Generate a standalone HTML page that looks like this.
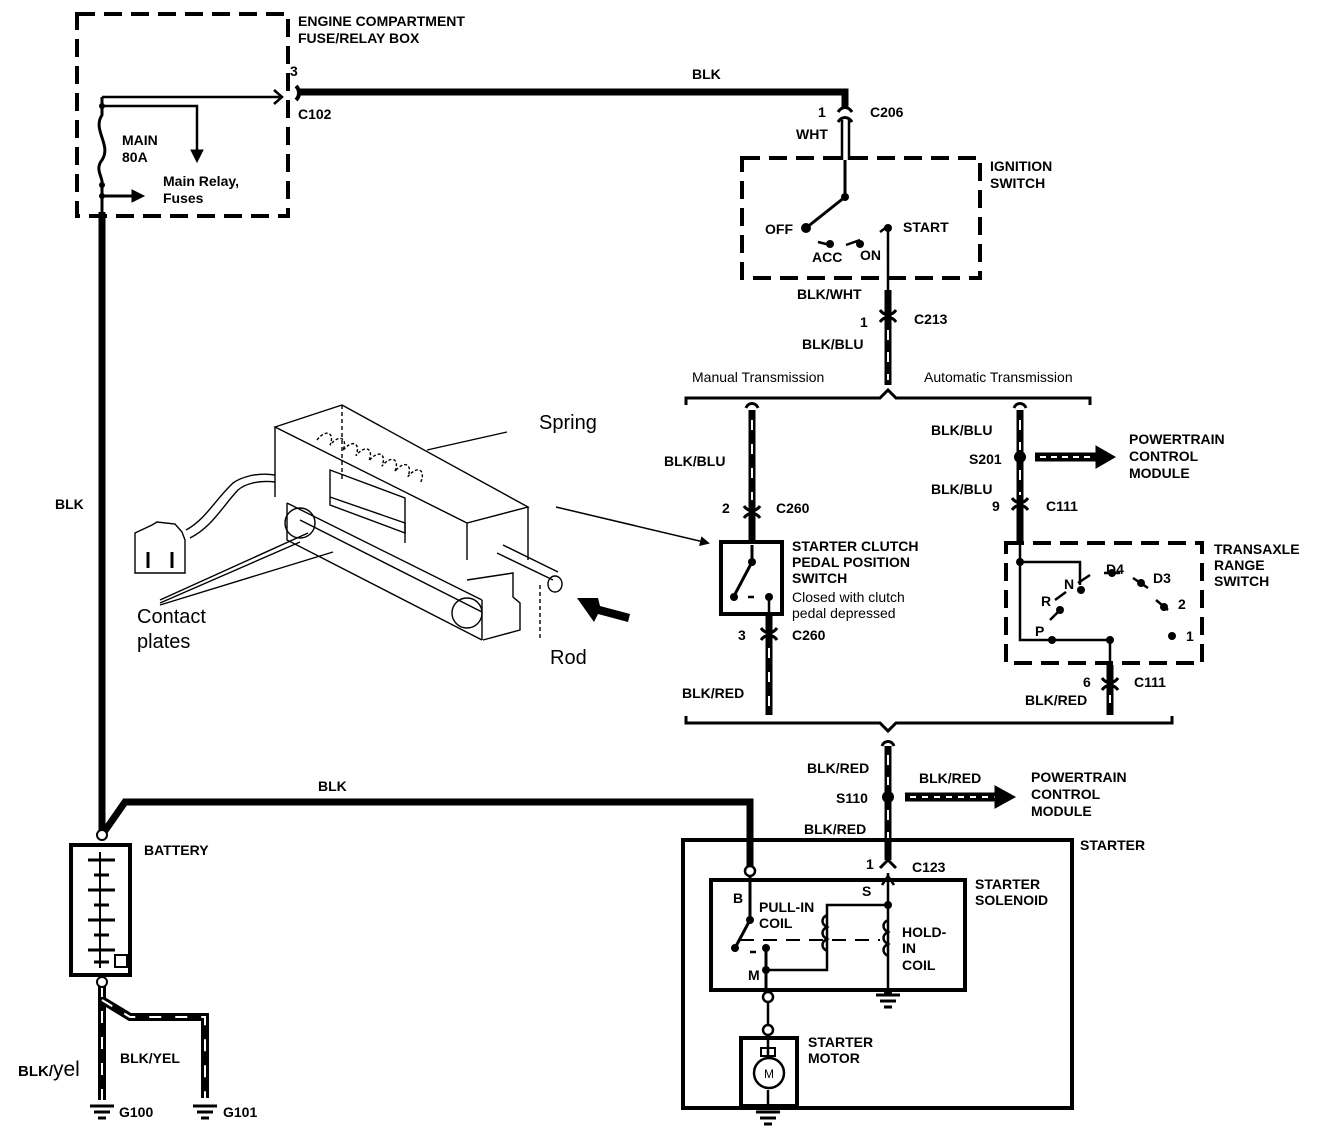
<!DOCTYPE html>
<html><head><meta charset="utf-8"><style>
html,body{margin:0;padding:0;background:#fff;}
svg{display:block;}
text{font-family:"Liberation Sans",Arial,sans-serif;fill:#000;}
.b{font-weight:bold;font-size:14px;}
.r{font-size:14px;}
.big{font-size:20px;}
</style></head><body>
<svg width="1344" height="1136" viewBox="0 0 1344 1136" xmlns="http://www.w3.org/2000/svg">
<defs>
<marker id="ah" markerWidth="10" markerHeight="10" refX="8" refY="5" orient="auto" markerUnits="userSpaceOnUse"><path d="M0,0 L10,5 L0,10 z" fill="#000"/></marker>
</defs>
<g fill="none" stroke="#000">
<!-- fuse box -->
<rect x="77" y="14" width="211" height="202" stroke-width="4" stroke-dasharray="18,9"/>
<path d="M102,97 H280" stroke-width="2.5"/>
<path d="M274,90 L282,97 L274,104" stroke-width="2.5"/>
<path d="M102,106 H197 V155" stroke-width="2.5"/>
<path d="M191,150 L197,162 L203,150 z" fill="#000"/>
<path d="M102,97 V115 C92,130 112,145 102,160 C94,170 104,178 102,185 V225" stroke-width="3"/>
<path d="M102,196 H135" stroke-width="3"/>
<path d="M132,190 L144,196 L132,202 z" fill="#000"/>
<!-- top BLK wire -->
<path d="M296,86 C300,90 300,96 296,100" stroke-width="4"/>
<path d="M300,92 H845 V108" stroke-width="7"/>
<!-- main left BLK -->
<path d="M102,212 V835" stroke-width="7"/>
<path d="M102,835 L125,802 H750 V866" stroke-width="7"/>
<!-- battery -->
<rect x="71" y="845" width="59" height="130" stroke-width="4"/>
<path d="M100,852 V968" stroke-width="2"/>
<path d="M88,860 H115 M94,875 H109 M88,890 H115 M94,905 H109 M88,920 H115 M94,935 H109 M88,950 H115 M94,962 H109" stroke-width="3"/>
<rect x="115" y="955" width="12" height="12" stroke-width="2"/>
<path d="M102,980 V1100" stroke-width="8"/>
<path d="M102,1000 L130,1017 H205 V1098" stroke-width="8"/>
<path d="M102,985 V1100 M102,1000 L130,1017 H205 V1098" stroke="#fff" stroke-width="2" stroke-dasharray="12,14"/>
<!-- grounds -->
<path d="M90,1106 H114 M94,1112 H110 M98,1118 H106" stroke-width="3"/>
<path d="M193,1106 H217 M197,1112 H213 M201,1118 H209" stroke-width="3"/>
<!-- C206 + ignition -->
<path d="M838,112 C842,106 848,106 852,112 M838,122 C842,116 848,116 852,122" stroke-width="3"/>
<path d="M842,120 V160 M849,120 V160" stroke-width="2.5"/>
<path d="M845,160 V195" stroke-width="3"/>
<rect x="742" y="158" width="238" height="120" stroke-width="4" stroke-dasharray="18,9"/>
<path d="M845,197 L806,228" stroke-width="3"/>
<path d="M818,242 L830,245 M846,245 L860,240 M880,232 L888,226" stroke-width="2.5"/>
<path d="M888,228 V300" stroke-width="2.5"/>
<path d="M888,290 V385" stroke-width="7"/>
<path d="M880,310 C884,316 892,316 896,310 M880,322 C884,316 892,316 896,322" stroke-width="3"/>
<path d="M888,330 V380" stroke="#fff" stroke-width="2" stroke-dasharray="10,12"/>
<!-- top bracket -->
<path d="M686,405 V398 H880 L888,390 L896,398 H1090 V405" stroke-width="3"/>
<!-- manual branch -->
<path d="M746,408 C748,402 756,402 758,408 M1014,408 C1016,402 1024,402 1026,408" stroke-width="3"/>
<path d="M752,410 V542" stroke-width="7"/>
<path d="M752,420 V500" stroke="#fff" stroke-width="2" stroke-dasharray="10,14"/>
<path d="M744,506 C748,512 756,512 760,506 M744,518 C748,512 756,512 760,518" stroke-width="3"/>
<rect x="721" y="542" width="61" height="72" stroke-width="4"/>
<path d="M752,545 V562 L734,596" stroke-width="3"/>
<path d="M748,597 H754 M769,598 V614" stroke-width="2.5"/>
<path d="M769,616 V715" stroke-width="7"/>
<path d="M761,628 C765,634 773,634 777,628 M761,640 C765,634 773,634 777,640" stroke-width="3"/>
<path d="M769,648 V712" stroke="#fff" stroke-width="2" stroke-dasharray="10,14"/>
<path d="M556,507 L708,543" stroke-width="1.5" marker-end="url(#ah)"/>
<!-- auto branch -->
<path d="M1020,410 V545" stroke-width="7"/>
<path d="M1020,420 V450 M1020,470 V495" stroke="#fff" stroke-width="2" stroke-dasharray="10,12"/>
<path d="M1035,457 H1100" stroke-width="9"/>
<path d="M1040,457 H1095" stroke="#fff" stroke-width="2" stroke-dasharray="6,5"/>
<path d="M1096,446 L1115,457 L1096,468 z" fill="#000"/>
<path d="M1012,498 C1016,504 1024,504 1028,498 M1012,510 C1016,504 1024,504 1028,510" stroke-width="3"/>
<rect x="1006" y="543" width="196" height="120" stroke-width="4" stroke-dasharray="18,9"/>
<path d="M1020,545 V640 H1052 M1020,562 H1080 V585" stroke-width="2.5"/>
<path d="M1052,640 H1110 V665" stroke-width="2.5"/>
<path d="M1050,620 L1058,612 M1055,600 L1066,592 M1078,583 L1090,575 M1104,573 L1120,573 M1133,578 L1148,588 M1156,600 L1168,610" stroke-width="2.5"/>
<path d="M1110,665 V715" stroke-width="7"/>
<path d="M1102,678 C1106,684 1114,684 1118,678 M1102,690 C1106,684 1114,684 1118,690" stroke-width="3"/>
<path d="M1110,695 V712" stroke="#fff" stroke-width="2" stroke-dasharray="8,10"/>
<!-- bottom bracket -->
<path d="M686,716 V723 H880 L888,731 L896,723 H1172 V716" stroke-width="3"/>
<path d="M882,746 C884,740 892,740 894,746" stroke-width="3"/>
<path d="M888,746 V860" stroke-width="7"/>
<path d="M888,755 V785 M888,810 V840" stroke="#fff" stroke-width="2" stroke-dasharray="10,12"/>
<path d="M905,797 H1000" stroke-width="9"/>
<path d="M910,797 H995" stroke="#fff" stroke-width="2" stroke-dasharray="6,6"/>
<path d="M995,786 L1015,797 L995,808 z" fill="#000"/>
<path d="M880,868 L888,860 L896,868" stroke-width="3"/>
<!-- starter -->
<rect x="683" y="840" width="389" height="268" stroke-width="4"/>
<rect x="711" y="880" width="254" height="110" stroke-width="4"/>
<path d="M750,872 V920 L735,948" stroke-width="3"/>
<path d="M766,948 V1000" stroke-width="3"/>
<path d="M750,952 H756" stroke-width="2.5"/>
<path d="M888,873 V990" stroke-width="2.5"/>
<path d="M882,885 L888,876 L894,885" stroke-width="2.5"/>
<path d="M888,905 H827 V970 H766" stroke-width="2.5"/>
<path d="M827,915 c-6,3 -6,9 0,12 c-6,3 -6,9 0,12 c-6,3 -6,9 0,12" stroke-width="2.5"/>
<path d="M888,920 c-6,3 -6,9 0,12 c-6,3 -6,9 0,12 c-6,3 -6,9 0,12" stroke-width="2.5"/>
<path d="M740,940 H880" stroke-width="2" stroke-dasharray="14,9"/>
<path d="M876,995 H900 M880,1001 H896 M884,1007 H892" stroke-width="3"/>
<circle cx="768" cy="997" r="5" stroke-width="2.5" fill="#fff"/>
<circle cx="750" cy="871" r="5" stroke-width="2.5" fill="#fff"/>
<path d="M768,1002 V1025" stroke-width="2.5"/>
<circle cx="768" cy="1030" r="5" stroke-width="2.5" fill="#fff"/>
<rect x="741" y="1038" width="56" height="68" stroke-width="4"/>
<path d="M768,1038 V1058 M768,1090 V1108" stroke-width="2.5"/>
<rect x="761" y="1048" width="14" height="8" stroke-width="2"/>
<circle cx="769" cy="1073" r="15" stroke-width="2.5"/>
<path d="M756,1112 H780 M760,1118 H776 M764,1124 H772" stroke-width="3"/>
<!-- mechanical drawing -->
<g stroke-width="1.4">
<path d="M275,427 L342,405 L528,507 L467,523 L275,427 z"/>
<path d="M275,427 V497 M467,523 V560 M528,507 V560"/>
<path d="M342,405 V480" stroke-dasharray="4,3"/>
<path d="M287,503 L482,600 M287,503 V540 L482,640 M300,520 L482,612"/>
<path d="M467,580 L513,573 V597 L520,603 V630 L483,640"/>
<path d="M482,600 V640"/>
<path d="M497,553 L553,580 M503,545 L558,572"/>
<ellipse cx="555" cy="584" rx="7" ry="8"/>
<circle cx="300" cy="523" r="15"/>
<circle cx="467" cy="613" r="15"/>
<path d="M330,470 L405,498 V533 L330,505 z"/>
<path d="M330,497 L405,523 V543"/>
<path d="M540,585 V640" stroke-dasharray="4,3"/>
<path d="M317,440 c4,-14 14,-14 14,0 c4,-14 14,-14 14,0 c4,-14 14,-14 14,0 c4,-14 14,-14 14,0 c4,-14 14,-14 14,0 c4,-14 14,-14 14,0 c4,-14 14,-14 14,0 c4,-14 14,-14 14,0" stroke-dasharray="3,2" transform="rotate(22 317 440)"/>
<path d="M275,475 C255,472 240,478 233,483 C215,500 205,520 186,530"/>
<path d="M275,482 C258,480 245,484 238,490 C222,507 212,527 190,538"/>
<path d="M135,533 L152,525 L157,522 L175,524 L182,532 L185,540 V573 H135 z"/>
<path d="M148,552 V568 M172,552 V568" stroke-width="3"/>
<path d="M427,450 L507,432"/>
<path d="M160,603 L300,542 M160,605 L333,552 M160,600 L308,533"/>
</g>
<path d="M577,598 L598,598 L600,606 L630,614 L628,622 L598,614 L594,622 z" fill="#000" stroke="none"/>
</g>
<g fill="#000">
<circle cx="102" cy="106" r="3"/><circle cx="102" cy="185" r="3"/><circle cx="102" cy="196" r="3"/>
<circle cx="845" cy="197" r="4"/><circle cx="806" cy="228" r="5"/><circle cx="830" cy="244" r="4"/><circle cx="860" cy="244" r="4"/><circle cx="888" cy="228" r="4"/>
<circle cx="752" cy="562" r="4"/><circle cx="734" cy="597" r="4"/><circle cx="769" cy="597" r="4"/>
<circle cx="1020" cy="457" r="6"/><circle cx="1020" cy="562" r="4"/><circle cx="1052" cy="640" r="4"/><circle cx="1110" cy="640" r="4"/>
<circle cx="1060" cy="610" r="4"/><circle cx="1081" cy="590" r="4"/><circle cx="1112" cy="573" r="4"/><circle cx="1141" cy="583" r="4"/><circle cx="1164" cy="607" r="4"/><circle cx="1172" cy="636" r="4"/>
<circle cx="888" cy="797" r="6"/>
<circle cx="888" cy="905" r="4"/><circle cx="750" cy="920" r="4"/><circle cx="735" cy="948" r="4"/><circle cx="766" cy="948" r="4"/><circle cx="766" cy="970" r="4"/><circle cx="888" cy="992" r="4"/>
<circle cx="102" cy="835" r="5" fill="#fff" stroke="#000" stroke-width="2"/><circle cx="102" cy="982" r="5" fill="#fff" stroke="#000" stroke-width="2"/>
</g>
<g class="b">
<text x="298" y="26">ENGINE COMPARTMENT</text><text x="298" y="43">FUSE/RELAY BOX</text>
<text x="290" y="76">3</text><text x="298" y="119">C102</text>
<text x="122" y="145">MAIN</text><text x="122" y="162">80A</text>
<text x="163" y="186">Main Relay,</text><text x="163" y="203">Fuses</text>
<text x="692" y="79">BLK</text>
<text x="818" y="117">1</text><text x="870" y="117">C206</text><text x="796" y="139">WHT</text>
<text x="990" y="171">IGNITION</text><text x="990" y="188">SWITCH</text>
<text x="765" y="234">OFF</text><text x="903" y="232">START</text><text x="812" y="262">ACC</text><text x="860" y="260">ON</text>
<text x="797" y="299">BLK/WHT</text><text x="860" y="327">1</text><text x="914" y="324">C213</text><text x="802" y="349">BLK/BLU</text>
<text x="664" y="466">BLK/BLU</text><text x="722" y="513">2</text><text x="776" y="513">C260</text>
<text x="792" y="551">STARTER CLUTCH</text><text x="792" y="567">PEDAL POSITION</text><text x="792" y="583">SWITCH</text>
<text x="738" y="640">3</text><text x="792" y="640">C260</text><text x="682" y="698">BLK/RED</text>
<text x="931" y="435">BLK/BLU</text><text x="969" y="464">S201</text><text x="931" y="494">BLK/BLU</text><text x="992" y="511">9</text><text x="1046" y="511">C111</text>
<text x="1129" y="444">POWERTRAIN</text><text x="1129" y="461">CONTROL</text><text x="1129" y="478">MODULE</text>
<text x="1214" y="554">TRANSAXLE</text><text x="1214" y="570">RANGE</text><text x="1214" y="586">SWITCH</text>
<text x="1064" y="589">N</text><text x="1106" y="574">D4</text><text x="1153" y="583">D3</text><text x="1041" y="606">R</text><text x="1178" y="609">2</text><text x="1035" y="636">P</text><text x="1186" y="641">1</text>
<text x="1083" y="687">6</text><text x="1134" y="687">C111</text><text x="1025" y="705">BLK/RED</text>
<text x="807" y="773">BLK/RED</text><text x="919" y="783">BLK/RED</text><text x="836" y="803">S110</text><text x="804" y="834">BLK/RED</text>
<text x="1031" y="782">POWERTRAIN</text><text x="1031" y="799">CONTROL</text><text x="1031" y="816">MODULE</text>
<text x="1080" y="850">STARTER</text>
<text x="866" y="869">1</text><text x="912" y="872">C123</text>
<text x="975" y="889">STARTER</text><text x="975" y="905">SOLENOID</text>
<text x="733" y="903">B</text><text x="862" y="896">S</text><text x="759" y="912">PULL-IN</text><text x="759" y="928">COIL</text>
<text x="902" y="937">HOLD-</text><text x="902" y="953">IN</text><text x="902" y="970">COIL</text><text x="748" y="980">M</text>
<text x="808" y="1047">STARTER</text><text x="808" y="1063">MOTOR</text>
<text x="318" y="791">BLK</text><text x="55" y="509">BLK</text>
<text x="144" y="855">BATTERY</text>
<text x="120" y="1063">BLK/YEL</text>
<text x="119" y="1117">G100</text><text x="223" y="1117">G101</text>
</g>
<text x="18" y="1076" class="b" style="font-size:15px">BLK/<tspan style="font-weight:normal;font-size:21px">yel</tspan></text>
<g class="r">
<text x="692" y="382">Manual Transmission</text><text x="924" y="382">Automatic Transmission</text>
<text x="792" y="602">Closed with clutch</text><text x="792" y="618">pedal depressed</text>
</g>
<text x="764" y="1078" style="font-size:12px">M</text>
<g class="big">
<text x="539" y="429">Spring</text><text x="137" y="623">Contact</text><text x="137" y="648">plates</text><text x="550" y="664">Rod</text>
</g>
</svg>
</body></html>
